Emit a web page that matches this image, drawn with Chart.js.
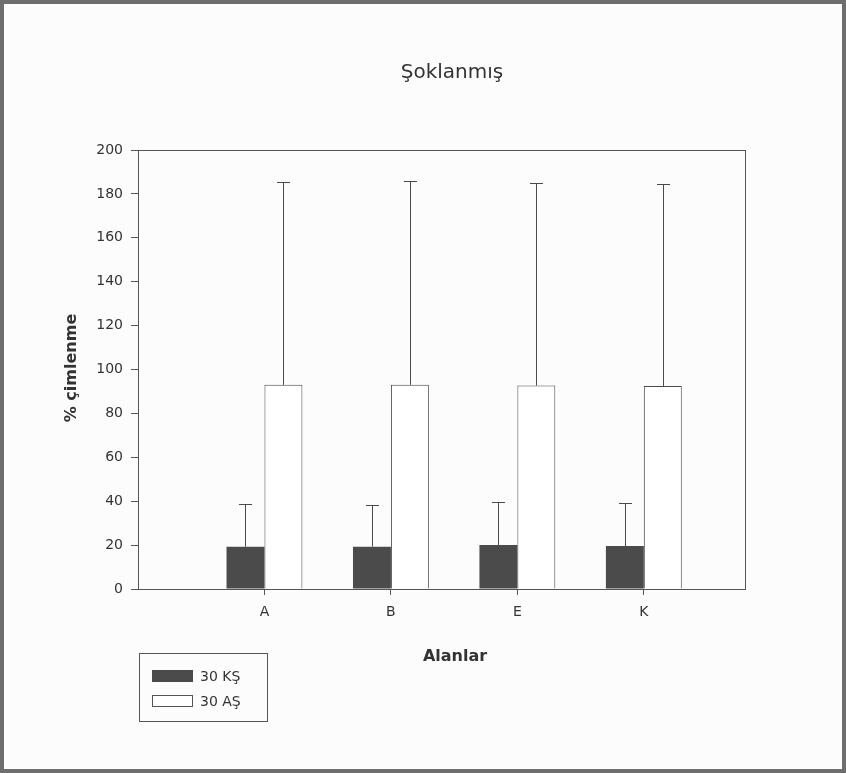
<!DOCTYPE html>
<html>
<head>
<meta charset="utf-8">
<title>Şoklanmış</title>
<script src="https://cdn.jsdelivr.net/npm/chart.js@4"></script>
<style>
	html, body { margin: 0; padding: 0; background: #fcfcfc; }
	#wrap { width: 846px; height: 773px; }
</style>
</head>
<body>
<div id="wrap"><canvas id="barChart" width="846" height="773"></canvas></div>
<script>
// data
var alanlar   = ['A', 'B', 'E', 'K'];
var ks30      = [19.3, 19.3, 20.0, 19.6];   // 30 KŞ means
var ks30Err   = [19.4, 19.0, 19.5, 19.7];   // 30 KŞ upper error
var as30      = [93.0, 93.0, 92.7, 92.5];   // 30 AŞ means
var as30Err   = [92.3, 93.0, 92.1, 92.0];   // 30 AŞ upper error
var yTicks    = [0, 20, 40, 60, 80, 100, 120, 140, 160, 180, 200];

var lineColor = '#4a4a4a';
var darkFill  = '#4b4b4b';

Chart.defaults.font.family = "'DejaVu Sans', 'Liberation Sans', sans-serif";
Chart.defaults.color = '#333';

function toPoints(values) {
	return values.map(function (v, i) { return { x: i + 1, y: v }; });
}

// frame, plot box and the upward error bars
var decorPlugin = {
	id: 'decor',
	beforeDraw: function (chart) {
		var ctx = chart.ctx;
		ctx.save();
		ctx.fillStyle = '#fcfcfc';
		ctx.fillRect(0, 0, chart.width, chart.height);
		ctx.strokeStyle = '#6e6e6e';
		ctx.lineWidth = 4;
		ctx.strokeRect(2, 2, chart.width - 4, chart.height - 4);
		ctx.restore();
	},
	afterDatasetsDraw: function (chart) {
		var ctx = chart.ctx;
		var yScale = chart.scales.y;
		var errs = [ks30Err, as30Err];
		var means = [ks30, as30];
		ctx.save();
		ctx.strokeStyle = lineColor;
		ctx.lineWidth = 1;
		chart.data.datasets.forEach(function (ds, d) {
			chart.getDatasetMeta(d).data.forEach(function (bar, i) {
				var x = Math.round(bar.x) + 0.5;
				var top = Math.round(yScale.getPixelForValue(means[d][i] + errs[d][i])) + 0.5;
				ctx.beginPath();
				ctx.moveTo(x, bar.y);
				ctx.lineTo(x, top);
				ctx.moveTo(x - 6.5, top);
				ctx.lineTo(x + 6.5, top);
				ctx.stroke();
			});
		});
		// plot box (top and right sides too)
		var a = chart.chartArea;
		ctx.strokeStyle = '#555';
		ctx.strokeRect(Math.round(a.left) + 0.5, Math.round(a.top) + 0.5,
			Math.round(a.right - a.left), Math.round(a.bottom - a.top));
		ctx.restore();
	},
	afterDraw: function (chart) {
		var ctx = chart.ctx;
		ctx.save();
		ctx.fillStyle = '#333';
		ctx.textAlign = 'center';
		ctx.textBaseline = 'middle';

		// title
		ctx.font = "20px 'DejaVu Sans'";
		ctx.fillText('Şoklanmış', 452, 73);

		// axis titles
		ctx.font = "bold 16px 'DejaVu Sans'";
		ctx.fillText('Alanlar', 455, 657);
		ctx.save();
		ctx.translate(72, 368);
		ctx.rotate(-Math.PI / 2);
		ctx.fillText('% çimlenme', 0, 0);
		ctx.restore();

		// legend box
		ctx.strokeStyle = '#555';
		ctx.lineWidth = 1;
		ctx.strokeRect(139.5, 653.5, 128, 68);
		ctx.fillStyle = darkFill;
		ctx.fillRect(152, 670, 41, 12);
		ctx.fillStyle = '#fff';
		ctx.fillRect(152.5, 695.5, 40, 11);
		ctx.strokeRect(152.5, 695.5, 40, 11);
		ctx.fillStyle = '#333';
		ctx.textAlign = 'left';
		ctx.font = "14px 'DejaVu Sans'";
		ctx.fillText('30 KŞ', 200, 677);
		ctx.fillText('30 AŞ', 200, 702);
		ctx.restore();
	}
};

var barCanvas = document.getElementById('barChart').getContext('2d');

var barChart = new Chart(barCanvas, {
	type: 'bar',
	data: {
		datasets: [
			{
				label: '30 KŞ',
				data: toPoints(ks30),
				backgroundColor: darkFill,
				borderColor: darkFill,
				borderWidth: 0
			},
			{
				label: '30 AŞ',
				data: toPoints(as30),
				backgroundColor: '#ffffff',
				borderColor: lineColor,
				borderWidth: 1
			}
		]
	},
	options: {
		responsive: false,
		animation: false,
		layout: { padding: { left: 0, top: 150, right: 101, bottom: 0 } },
		datasets: {
			bar: { categoryPercentage: 0.6, barPercentage: 1.0 }
		},
		plugins: {
			legend: { display: false },
			title: { display: false },
			tooltip: { enabled: false }
		},
		scales: {
			x: {
				type: 'linear',
				offset: false,
				min: 0,
				max: 4.8,
				afterBuildTicks: function (scale) {
					scale.ticks = alanlar.map(function (c, i) { return { value: i + 1 }; });
				},
				afterFit: function (scale) { scale.height = 184; },
				ticks: {
					padding: 9,
					font: { size: 14 },
					callback: function (v) { return alanlar[v - 1]; }
				},
				grid: { offset: false, drawOnChartArea: false, tickLength: 6, color: '#555' },
				border: { color: '#555' }
			},
			y: {
				min: 0,
				max: 200,
				afterBuildTicks: function (scale) {
					scale.ticks = yTicks.map(function (v) { return { value: v }; });
				},
				afterFit: function (scale) { scale.width = 138; },
				ticks: { padding: 8, font: { size: 14 } },
				grid: { drawOnChartArea: false, tickLength: 7, color: '#555' },
				border: { color: '#555' }
			}
		}
	},
	plugins: [decorPlugin]
});
</script>
</body>
</html>
